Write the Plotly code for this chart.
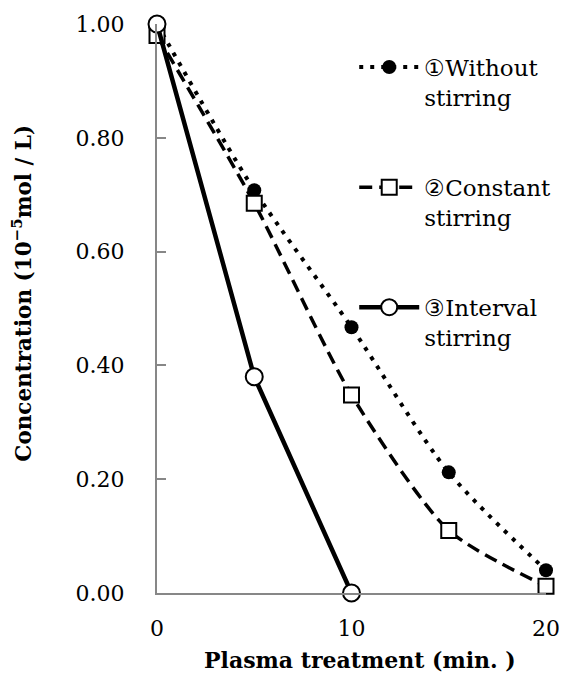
import plotly.graph_objects as go

time_min = [0, 5, 10, 15, 20]
without_stirring = [1.00, 0.708, 0.467, 0.212, 0.040]
constant_stirring = [0.98, 0.685, 0.348, 0.110, 0.012]
interval_time = [0, 5, 10]
interval_stirring = [1.00, 0.380, 0.000]

names = ["①Without<br>stirring", "②Constant<br>stirring", "③Interval<br>stirring"]
x_ticks = [0, 10, 20]
y_ticks = [0, 0.2, 0.4, 0.6, 0.8, 1.0]
x_title = "<b>Plasma treatment (min. )</b>"
y_title = "<b>Concentration (10<sup>−5</sup>mol / L)</b>"

FONT = "DejaVu Serif"
AX = "#878787"

fig = go.Figure()
fig.add_trace(go.Scatter(
    x=time_min, y=without_stirring, name=names[0], mode="lines+markers",
    line=dict(color="black", width=4, dash="4px,7px", shape="spline", smoothing=0.8),
    marker=dict(symbol="circle", size=14, color="black"),
    cliponaxis=False, legend="legend"))
fig.add_trace(go.Scatter(
    x=time_min, y=constant_stirring, name=names[1], mode="lines+markers",
    line=dict(color="black", width=3.5, dash="13px,7px", shape="spline", smoothing=0.7),
    marker=dict(symbol="square", size=15, color="white", line=dict(color="black", width=2)),
    cliponaxis=False, legend="legend2"))
fig.add_trace(go.Scatter(
    x=interval_time, y=interval_stirring, name=names[2], mode="lines+markers",
    line=dict(color="black", width=4.5),
    marker=dict(symbol="circle", size=17, color="white", line=dict(color="black", width=2)),
    cliponaxis=False, legend="legend3"))

leg_common = dict(bgcolor="rgba(0,0,0,0)", font=dict(family=FONT, size=23, color="black"),
                  valign="top", itemwidth=60, xanchor="left", yanchor="top")

fig.add_annotation(x=0.522, y=-0.118, xref="paper", yref="paper", showarrow=False,
                   xanchor="center", yanchor="middle", text=x_title,
                   font=dict(family=FONT, size=22, color="black"))
fig.add_annotation(x=-0.347, y=0.526, xref="paper", yref="paper", showarrow=False,
                   xanchor="center", yanchor="middle", textangle=-90, text=y_title,
                   font=dict(family=FONT, size=21.5, color="black"))

fig.update_layout(
    width=568, height=670,
    margin=dict(l=149, r=30, t=16, b=85),
    paper_bgcolor="white", plot_bgcolor="white",
    font=dict(family=FONT, size=22, color="black"),
    showlegend=True,
    legend=dict(x=0.507, y=0.962, **leg_common),
    legend2=dict(x=0.507, y=0.751, **leg_common),
    legend3=dict(x=0.507, y=0.540, **leg_common),
    xaxis=dict(range=[0, 20], tickvals=x_ticks, ticktext=[str(v) for v in x_ticks],
               showgrid=False, zeroline=False, showline=True, linecolor=AX, linewidth=2,
               ticks="", ticklabelstandoff=15, automargin=False,
               tickfont=dict(family=FONT, size=22)),
    yaxis=dict(range=[0, 1], tickvals=y_ticks, ticktext=[f"{v:.2f}" for v in y_ticks],
               showgrid=False, zeroline=False, showline=True, linecolor=AX, linewidth=2,
               ticks="inside", ticklen=9, tickcolor=AX, tickwidth=2, ticklabelstandoff=26,
               automargin=False,
               tickfont=dict(family=FONT, size=22)),
)

fig.write_html("out.html")
